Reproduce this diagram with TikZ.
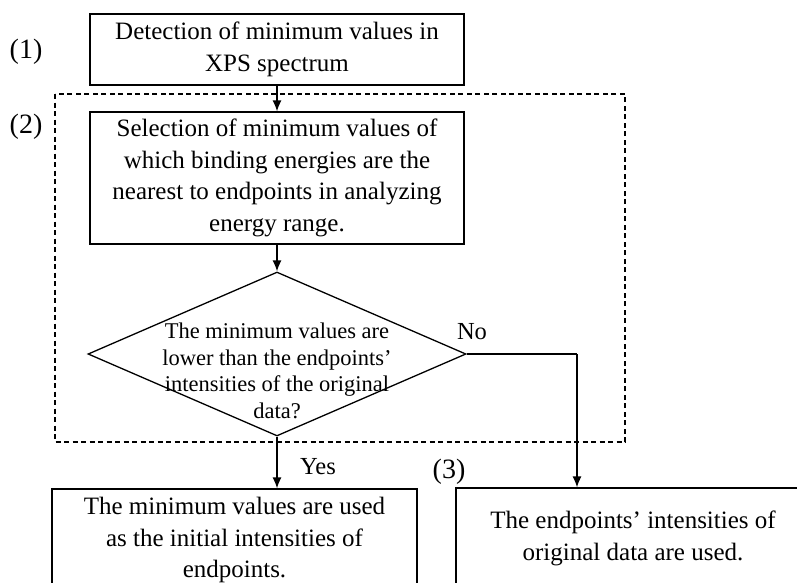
\documentclass[tikz,border=0pt]{standalone}
\usepackage{fontspec}
\setmainfont{Liberation Serif}
\usetikzlibrary{shapes}
\usetikzlibrary{shapes.geometric}
\usetikzlibrary{positioning}
\usetikzlibrary{arrows.meta}
\tikzset{
    procbox/.style = {rectangle, draw=black, line width=1.3pt, inner sep=0pt, align=center,
                      font=\fontsize{25}{31.5}\selectfont},
    decision/.style = {diamond, draw=black, line width=1.3pt, inner sep=0pt,
                       minimum width=378pt, minimum height=164pt},
    question/.style = {align=center, inner sep=0pt, font=\fontsize{22.5}{26.5}\selectfont},
    steplabel/.style = {inner sep=0pt, font=\fontsize{28}{30}\selectfont},
    answer/.style = {inner sep=0pt, font=\fontsize{24.5}{26}\selectfont},
    group/.style = {draw=black, line width=1.1pt, dash pattern=on 5pt off 3.5pt},
    edgen/.style = {-{Latex[length=11pt,width=9pt]}, line width=1.3pt},
    edgep/.style = {line width=1.3pt}
}

\begin{document}
\begin{tikzpicture}[x=1pt,y=-1pt]
\useasboundingbox (0,0) rectangle (797,582);
\clip (0,0) rectangle (797,582);
\node[procbox, minimum width=374pt, minimum height=71pt] at (277,49.5) (detect)
    {Detection of minimum values in\\XPS spectrum};
\node[procbox, minimum width=374pt, minimum height=132pt] at (277,178) (select)
    {Selection of minimum values of\\which binding energies are the\\nearest to endpoints in analyzing\\energy range.};
\node[decision] at (277,354) (dec) {};
\node[question] at (277,371) (qtext)
    {The minimum values are\\lower than the endpoints'\\intensities of the original\\data?};
\node[procbox, minimum width=365pt, minimum height=102pt] at (234.5,540) (used)
    {The minimum values are used\\as the initial intensities of\\endpoints.};
\node[procbox, minimum width=354pt, minimum height=101pt] at (633,538.5) (orig)
    {The endpoints' intensities of\\original data are used.};
%
\draw[group] (55,94) rectangle (625,442);
%
\node[steplabel] at (26,52) (s1) {(1)};
\node[steplabel] at (26,127) (s2) {(2)};
\node[steplabel] at (449,472) (s3) {(3)};
\node[answer] at (472,332) (no) {No};
\node[answer] at (318,467) (yes) {Yes};
%
\coordinate (nocorner) at (577,354);
\draw[edgen] (detect) -- (select);
\draw[edgen] (select) -- (dec);
\draw[edgen] (dec.south) -- (dec.south |- used.north);
\draw[edgep] (dec.east) -- (nocorner);
\draw[edgen] (nocorner) -- (nocorner |- orig.north);
\end{tikzpicture}
\end{document}
